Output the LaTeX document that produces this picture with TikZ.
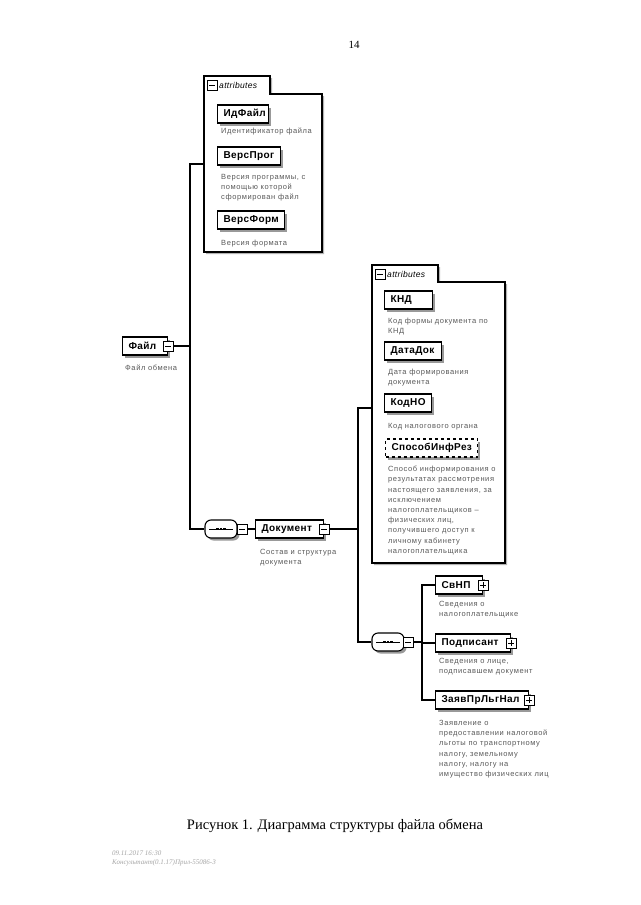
\documentclass[tikz,border=0pt]{standalone}
\usepackage{fontspec}
\setmainfont{Liberation Serif}
\newfontfamily\lblfont[LetterSpace=4]{Liberation Sans}
\newfontfamily\descfont[LetterSpace=8]{Liberation Sans}
\usetikzlibrary{shadows}
\tikzset{
  conn/.style={line width=1.1pt, black},
  elem/.style={draw, line width=1.1pt, fill=white, rectangle, minimum height=18pt,
    inner xsep=6pt, inner ysep=0pt, anchor=west, align=left,
    font=\lblfont\bfseries\fontsize{10}{12}\selectfont,
    drop shadow={shadow xshift=2.5pt, shadow yshift=-2.5pt, fill=black!40, opacity=1}},
  optelem/.style={elem, dashed, align=center},
  pmbox/.style={draw, line width=1pt, fill=white, minimum size=10pt, inner sep=0pt},
  minusbox/.style={pmbox, path picture={
    \draw[line width=1pt] ([xshift=2pt]path picture bounding box.west) -- ([xshift=-2pt]path picture bounding box.east);}},
  plusbox/.style={pmbox, path picture={
    \draw[line width=1pt] ([xshift=2pt]path picture bounding box.west) -- ([xshift=-2pt]path picture bounding box.east);
    \draw[line width=1pt] ([yshift=-2pt]path picture bounding box.north) -- ([yshift=2pt]path picture bounding box.south);}},
  seqbox/.style={draw, line width=1.1pt, fill=white, rounded corners=6pt, minimum width=32pt, minimum height=18pt, inner sep=0pt,
    drop shadow={shadow xshift=2.5pt, shadow yshift=-2.5pt, fill=black!40, opacity=1},
    path picture={
      \draw[line width=1pt, sharp corners] ([xshift=4pt]path picture bounding box.west) -- ([xshift=-4pt]path picture bounding box.east);
      \fill[black, sharp corners] ([xshift=-5.2pt,yshift=-1.4pt]path picture bounding box.center) rectangle ++(2.8pt,2.8pt);
      \fill[black, sharp corners] ([xshift=-1.4pt,yshift=-1.4pt]path picture bounding box.center) rectangle ++(2.8pt,2.8pt);
      \fill[black, sharp corners] ([xshift=2.4pt,yshift=-1.4pt]path picture bounding box.center) rectangle ++(2.8pt,2.8pt);}},
  attrbox/.style={draw, line width=1.1pt, fill=white,
    drop shadow={shadow xshift=2pt, shadow yshift=-2pt, fill=black!30, opacity=1}},
  tabtext/.style={anchor=west, inner sep=0pt, font=\lblfont\itshape\fontsize{8.5}{10}\selectfont},
  desc/.style={anchor=north west, inner sep=0pt, align=left, text=black!65,
    font=\descfont\fontsize{7.5}{10.2}\selectfont},
}
\begin{document}
\begin{tikzpicture}[x=1pt, y=-1pt]
\useasboundingbox (0,0) rectangle (640,905);
\fill[white] (0,0) rectangle (640,905);

\node (pn) at (354,45) {\fontsize{11}{13}\selectfont 14};

% attributes box 1
\draw[attrbox] (204,76) -- (270,76) -- (270,94) -- (322,94) -- (322,252) -- (204,252) -- cycle;
\node[minusbox] (a1m) at (212,85) {};
\node[tabtext] (a1t) at (219,85) {attributes};
\coordinate (a1in) at (204,164);

\node[elem, text width=39pt] (idf) at (217,114) {ИдФайл};
\node[desc] (idfd) at (221,128) {Идентификатор файла};
\node[elem, text width=51pt] (verp) at (217,156) {ВерсПрог};
\node[desc] (verpd) at (221,174) {Версия программы, с\\помощью которой\\сформирован файл};
\node[elem, text width=55pt] (verf) at (217,220) {ВерсФорм};
\node[desc] (verfd) at (221,240) {Версия формата};

% root
\node[elem, text width=33pt] (fajl) at (122,346) {Файл};
\node[minusbox] (fajlm) at (fajl.east) {};
\node[desc] (fajld) at (125,365) {Файл обмена};
\coordinate (t1) at (190,346);

% attributes box 2
\draw[attrbox] (372,265) -- (438,265) -- (438,282) -- (505,282) -- (505,563) -- (372,563) -- cycle;
\node[minusbox] (a2m) at (380,274) {};
\node[tabtext] (a2t) at (387,274) {attributes};
\coordinate (a2in) at (372,408);

\node[elem, text width=36pt] (knd) at (384,300) {КНД};
\node[desc] (kndd) at (388,318) {Код формы документа по\\КНД};
\node[elem, text width=45pt] (datadok) at (384,351) {ДатаДок};
\node[desc] (datadokd) at (388,369) {Дата формирования\\документа};
\node[elem, text width=35pt] (kodno) at (384,403) {КодНО};
\node[desc] (kodnod) at (388,423) {Код налогового органа};
\node[optelem, text width=80pt] (sposob) at (385,448) {СпособИнфРез};
\node[desc] (sposobd) at (388,466) {Способ информирования о\\результатах рассмотрения\\настоящего заявления, за\\исключением\\налогоплательщиков –\\физических лиц,\\получившего доступ к\\личному кабинету\\налогоплательщика};

% sequence 1 and Документ
\node[seqbox] (seq1) at (221,529) {};
\node[minusbox] (seq1m) at (242,529) {};
\node[elem, text width=56pt] (doc) at (255,529) {Документ};
\node[minusbox] (docm) at (doc.east) {};
\node[desc] (docd) at (260,549) {Состав и структура\\документа};
\coordinate (t2) at (358,529);

% sequence 2 and children
\node[seqbox] (seq2) at (388,642) {};
\node[minusbox] (seq2m) at (408,642) {};
\coordinate (t3) at (422,642);

\node[elem, text width=35pt] (svnp) at (435,585) {СвНП};
\node[plusbox] (svnpp) at (svnp.east) {};
\node[desc] (svnpd) at (439,601) {Сведения о\\налогоплательщике};
\node[elem, text width=63pt] (podp) at (435,643) {Подписант};
\node[plusbox] (podpp) at (podp.east) {};
\node[desc] (podpd) at (439,658) {Сведения о лице,\\подписавшем документ};
\node[elem, text width=81pt] (zayav) at (435,700) {ЗаявПрЛьгНал};
\node[plusbox] (zayavp) at (zayav.east) {};
\node[desc] (zayavd) at (439,720) {Заявление о\\предоставлении налоговой\\льготы по транспортному\\налогу, земельному\\налогу, налогу на\\имущество физических лиц};

% connectors
\draw[conn] (fajlm.east) -- (t1);
\draw[conn] (t1) |- (a1in);
\draw[conn] (t1) |- (seq1.west);
\draw[conn] (seq1m.east) -- (doc.west);
\draw[conn] (docm.east) -- (t2);
\draw[conn] (t2) |- (a2in);
\draw[conn] (t2) |- (seq2.west);
\draw[conn] (seq2m.east) -- (t3);
\draw[conn] (t3) |- (svnp.west);
\draw[conn] (t3) |- (podp.west);
\draw[conn] (t3) |- (zayav.west);

% caption and footer
\node (cap) at (335,826) {\fontsize{14.5}{16}\selectfont Рисунок 1. Диаграмма структуры файла обмена};
\node[anchor=north west, inner sep=0pt, align=left, text=black!35, font=\itshape\fontsize{7}{9}\selectfont] (foot) at (112,851) {09.11.2017 16:30\\Консультант(0.1.17)Прил-55086-3};
\end{tikzpicture}
\end{document}
